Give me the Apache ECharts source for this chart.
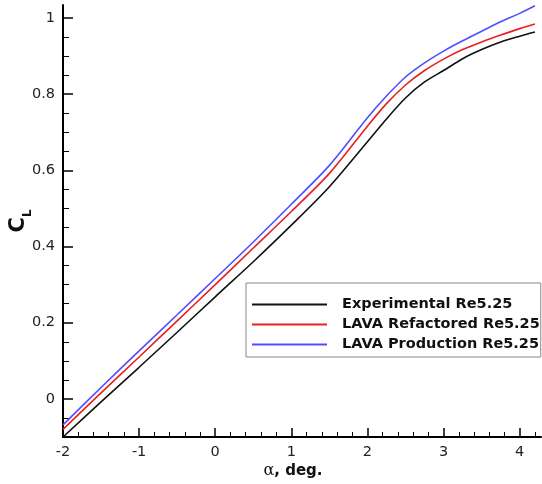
<!DOCTYPE html>
<html>
<head>
<meta charset="utf-8">
<script src="https://cdn.jsdelivr.net/npm/echarts@6/dist/echarts.min.js"></script>
<style>html,body{margin:0;padding:0;background:#fff}#c{width:542px;height:484px}</style>
</head>
<body>
<div id="c"></div>
<script>
// Data
const alpha = [-2, -1.5, -1, -0.5, 0, 0.5, 1, 1.5, 2, 2.25, 2.5, 2.75, 3, 3.25, 3.5, 3.75, 4, 4.2];
const clExperimental = [-0.100, -0.008, 0.083, 0.175, 0.268, 0.360, 0.456, 0.557, 0.675, 0.735, 0.790, 0.832, 0.862, 0.893, 0.917, 0.937, 0.952, 0.963];
const clRefactored   = [-0.080, 0.016, 0.110, 0.205, 0.300, 0.396, 0.492, 0.592, 0.716, 0.775, 0.824, 0.862, 0.892, 0.917, 0.937, 0.955, 0.972, 0.984];
const clProduction   = [-0.068, 0.030, 0.126, 0.221, 0.316, 0.412, 0.511, 0.613, 0.738, 0.795, 0.845, 0.882, 0.913, 0.940, 0.965, 0.990, 1.012, 1.032];
const seriesNames = ['Experimental Re5.25', 'LAVA Refactored Re5.25', 'LAVA Production Re5.25'];
const seriesColors = ['#111111', '#e8201e', '#4f4fff'];
const xMajorTicks = [-2, -1, 0, 1, 2, 3, 4];
const yMajorTicks = [0, 0.2, 0.4, 0.6, 0.8, 1];
const xMinorTicks = [-1.8,-1.6,-1.4,-1.2,-0.8,-0.6,-0.4,-0.2,0.2,0.4,0.6,0.8,1.2,1.4,1.6,1.8,2.2,2.4,2.6,2.8,3.2,3.4,3.6,3.8,4.2];
const yMinorTicks = [-0.05,0.05,0.1,0.15,0.25,0.3,0.35,0.45,0.5,0.55,0.65,0.7,0.75,0.85,0.9,0.95];

const X_MIN = -2, X_MAX = 4.28, Y_MIN = -0.1, Y_MAX = 1.034;
const FONT = '"DejaVu Sans", "Liberation Sans", Arial, sans-serif';

function pairs(xs, ys){ return xs.map((x,i)=>[x, ys[i]]); }
function fmt(v){ return String(Math.round(v*10)/10); }

// extra axes used only to draw tick marks at given values
function tickAxis(kind, min, max, values, len, width){
  return {
    type:'value', min:min, max:max, position: kind==='x' ? 'bottom' : 'left', offset:0,
    axisLine:{show:true, onZero:false, lineStyle:{color:'rgba(0,0,0,0)'}},
    axisLabel:{show:false}, splitLine:{show:false},
    axisTick:{show:true, inside:true, length:len, lineStyle:{color:'#000', width:width}, customValues:values}
  };
}

const chart = echarts.init(document.getElementById('c'), null, {renderer:'canvas'});
chart.setOption({
  animation:false,
  backgroundColor:'#fff',
  grid:{left:63, right:1, top:5, bottom:47, containLabel:false, outerBoundsMode:'none'},
  legend:{
    orient:'vertical', left:246, top:283,
    padding:[14, 1, 5, 6],
    backgroundColor:'#fff', borderColor:'#888', borderWidth:1,
    icon:'rect', itemWidth:75, itemHeight:2, itemGap:5,
    textStyle:{fontFamily:FONT, fontSize:14.5, fontWeight:'bold', color:'#111', padding:[0,0,0,10]},
    data:seriesNames
  },
  xAxis:[{
    type:'value', min:X_MIN, max:X_MAX, splitNumber:5, position:'bottom', offset:0,
    axisLine:{show:true, onZero:false, lineStyle:{color:'#000', width:2}},
    axisTick:{show:false},
    axisLabel:{show:true, margin:8, fontFamily:FONT, fontSize:14.5, color:'#222', formatter:fmt, showMinLabel:true, showMaxLabel:false},
    splitLine:{show:false},
    name:'{a|α}{b|, deg.}', nameLocation:'middle', nameGap:26, nameMoveOverlap:false,
    nameTextStyle:{padding:[0,18,0,0], rich:{a:{fontFamily:'"DejaVu Serif", "Liberation Serif", serif', fontSize:16, color:'#111'}, b:{fontFamily:FONT, fontSize:15, fontWeight:'bold', color:'#111'}}}
  },
  tickAxis('x', X_MIN, X_MAX, xMinorTicks, 5, 1),
  tickAxis('x', X_MIN, X_MAX, xMajorTicks, 9, 1.5)
  ],
  yAxis:[{
    type:'value', min:Y_MIN, max:Y_MAX, splitNumber:5, position:'left', offset:0,
    axisLine:{show:true, onZero:false, lineStyle:{color:'#000', width:2}},
    axisTick:{show:false},
    axisLabel:{show:true, margin:8, fontFamily:FONT, fontSize:14.5, color:'#222', formatter:fmt, showMinLabel:false, showMaxLabel:false},
    splitLine:{show:false},
    name:'{c|C}{l|L}', nameLocation:'middle', nameRotate:90, nameGap:34, nameMoveOverlap:false,
    nameTextStyle:{rich:{c:{fontFamily:FONT, fontSize:21, fontWeight:'bold', color:'#111', verticalAlign:'bottom'}, l:{fontFamily:FONT, fontSize:12, fontWeight:'bold', color:'#111', verticalAlign:'bottom', padding:[0,0,-5,0]}}}
  },
  tickAxis('y', Y_MIN, Y_MAX, yMinorTicks, 6, 1),
  tickAxis('y', Y_MIN, Y_MAX, yMajorTicks, 10, 1.5)
  ],
  series: [clExperimental, clRefactored, clProduction].map((cl, i) => ({
    name:seriesNames[i], type:'line', data:pairs(alpha, cl), symbol:'none', smooth:0.3,
    lineStyle:{color:seriesColors[i], width:1.6}, itemStyle:{color:seriesColors[i]}
  }))
});
</script>
</body>
</html>
